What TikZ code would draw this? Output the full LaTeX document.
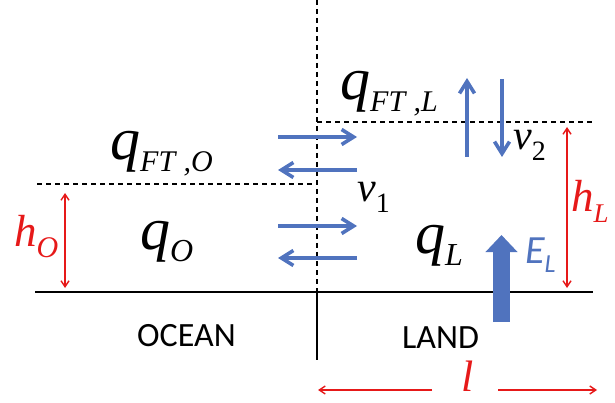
\documentclass[tikz,border=0pt]{standalone}
\usepackage{fontspec}
\setmainfont{Liberation Serif}
\newfontfamily\calibfont{Carlito}
\usetikzlibrary{arrows.meta}
\definecolor{flowblue}{RGB}{80,115,190}
\definecolor{dimred}{RGB}{230,25,25}
\newcommand{\symtxt}[2]{{\fontsize{#1}{#1}\selectfont\itshape #2}}
\newcommand{\lowsub}[3]{\raisebox{-#1}{\fontsize{#2}{#2}\selectfont\itshape #3}}
\begin{document}
\begin{tikzpicture}[x=1pt,y=-1pt,
  lbl/.style={anchor=base west,inner sep=0pt},
  layer/.style={dashed,dash pattern=on 5pt off 4pt,line width=1.3pt},
  flow/.style={flowblue,line width=3.6pt,-{Straight Barb[length=12pt,width=15pt]}},
  dimen/.style={dimred,line width=1.4pt,-{Straight Barb[length=6pt,width=8pt]}},
  dimboth/.style={dimred,line width=1.4pt,{Straight Barb[length=6pt,width=8pt]}-{Straight Barb[length=6pt,width=8pt]}}
]
  \useasboundingbox (0,0) rectangle (615,403);
  % coast and ground
  \draw[layer] (317,0) -- (317,292);
  \draw[line width=1.3pt] (317,292) -- (317,360);
  \draw[line width=1.3pt] (35,292) -- (593,292);
  % boundary layer tops
  \draw[layer] (37,184) -- (312,184);
  \draw[layer] (317,122) -- (592,122);
  % exchange across the coast
  \draw[flow] (278,137) -- (357,137);
  \draw[flow] (357,170) -- (278,170);
  \draw[flow] (278,226) -- (357,226);
  \draw[flow] (357,258) -- (278,258);
  % exchange with free troposphere
  \draw[flow] (467,157) -- (467,78);
  \draw[flow] (502,79) -- (502,157);
  % surface flux
  \draw[flowblue,line width=17pt,-{Triangle[length=17pt,width=31pt]}] (501.5,322) -- (501.5,235);
  % heights and length
  \draw[dimboth] (65,193) -- (65,288);
  \draw[dimboth] (567,127) -- (567,288);
  \draw[dimen] (432,390) -- (318,390);
  \draw[dimen] (498,390) -- (597,390);
  % labels
  \node[lbl] (qftl) at (340,100) {\symtxt{60}{q}\lowsub{12pt}{30}{FT\;,L}};
  \node[lbl] (qfto) at (110,160) {\symtxt{60}{q}\lowsub{12pt}{30}{FT\;,O}};
  \node[lbl] (qo) at (140,250) {\symtxt{60}{q}\lowsub{12pt}{32}{O}};
  \node[lbl] (ql) at (415,253) {\symtxt{60}{q}\lowsub{12pt}{32}{L}};
  \node[lbl] (vone) at (357,202) {\symtxt{42}{v}\lowsub{11pt}{28}{\upshape 1}};
  \node[lbl] (vtwo) at (513,150) {\symtxt{42}{v}\lowsub{11pt}{28}{\upshape 2}};
  \node[lbl,dimred] (ho) at (14,247) {\symtxt{45}{h}\lowsub{10pt}{30}{O}};
  \node[lbl,dimred] (hl) at (571,212) {\symtxt{45}{h}\lowsub{10pt}{27}{L}};
  \node[lbl,flowblue] (el) at (525,263) {\calibfont\symtxt{40}{E}\lowsub{9pt}{26}{L}};
  \node[lbl,dimred] (len) at (461,391) {\symtxt{44}{l}};
  \node[lbl] (ocean) at (137,346) {\calibfont\fontsize{34}{34}\selectfont OCEAN};
  \node[lbl] (land) at (402,348) {\calibfont\fontsize{34}{34}\selectfont LAND};
\end{tikzpicture}
\end{document}
